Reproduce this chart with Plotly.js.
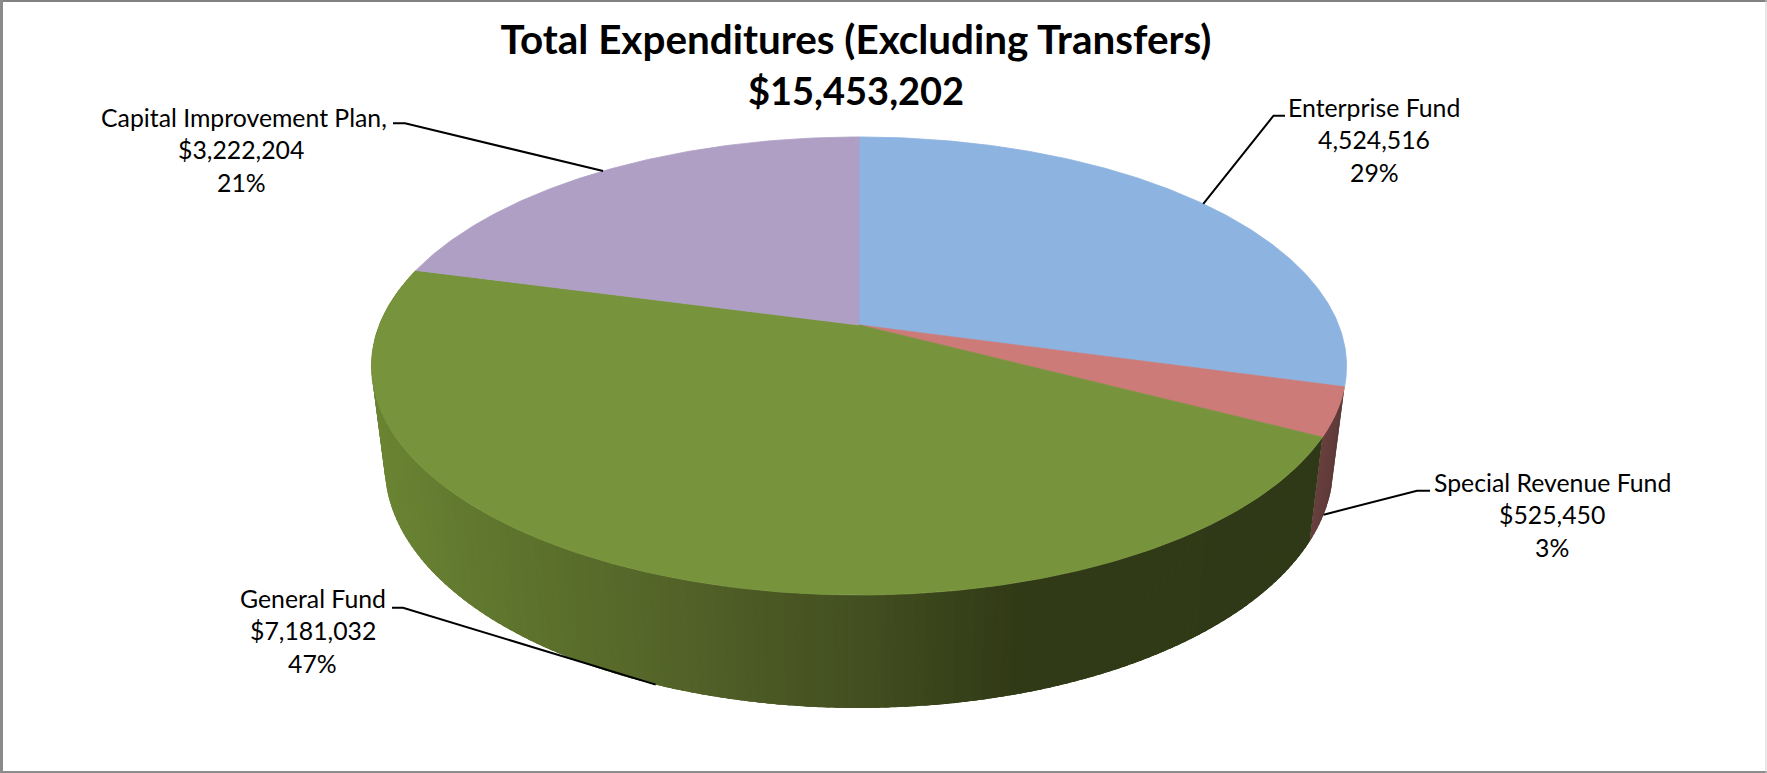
<!DOCTYPE html>
<html>
<head>
<meta charset="utf-8">
<title>Total Expenditures (Excluding Transfers)</title>
<script src="https://cdn.plot.ly/plotly-3.0.1.min.js"></script>
<style>html,body{margin:0;padding:0;background:#fff;overflow:hidden}#chart{width:1767px;height:773px}</style>
</head>
<body>
<div id="chart"></div>
<script>
// Expenditure by fund, clockwise from twelve o'clock.
const funds = ['Enterprise Fund', 'Special Revenue Fund', 'General Fund', 'Capital Improvement Plan,'];
const amounts = [4524516, 525450, 7181032, 3222204];
const amountLabels = ['4,524,516', '$525,450', '$7,181,032', '$3,222,204'];
const shareLabels = ['29%', '3%', '47%', '21%'];
const chartTitle = 'Total Expenditures (Excluding Transfers)';
const chartTotal = '$15,453,202';

const topColors = ['#8DB3E0', '#CC7B78', '#77933C', '#AF9FC5'];

// Shading of the General Fund wall, left to right across the page.
const wallStopX = [370, 472, 676, 880, 1033, 1400];
const wallStopRGB = [[108, 134, 52], [98, 122, 47], [84, 101, 41], [67, 79, 32], [49, 58, 22], [47, 57, 23]];
const pinkWallRGB = [[92, 58, 56], [106, 64, 62]];

// Perspective view of the disc: cx, cy is where the disc centre lands,
// a and b scale across and up, p is the foreshortening toward the back.
const topDisc = {cx: 859, cy: 325, a: 479.7, b: 221.7, p: 0.179};
const baseDisc = {cx: 859, cy: 422.7, a: 466.6, b: 234.2, p: 0.179};

function project(disc, deg) {
  const t = deg * Math.PI / 180;
  const w = 1 + disc.p * Math.cos(t);
  return [disc.cx + disc.a * Math.sin(t) / w, disc.cy - disc.b * Math.cos(t) / w];
}

const total = amounts.reduce((s, v) => s + v, 0);
const edges = [0];
amounts.forEach(v => edges.push(edges[edges.length - 1] + v / total * 360));

function wallColor(x) {
  let i = 0;
  while (i < wallStopX.length - 2 && x > wallStopX[i + 1]) i++;
  const f = Math.min(1, Math.max(0, (x - wallStopX[i]) / (wallStopX[i + 1] - wallStopX[i])));
  const c = wallStopRGB[i].map((v, k) => Math.round(v + (wallStopRGB[i + 1][k] - v) * f));
  return `rgb(${c.join(',')})`;
}

function polygon(xy, color, edge) {
  return {
    type: 'scatter', mode: 'lines', x: xy.map(p => p[0]), y: xy.map(p => p[1]),
    fill: 'toself', fillcolor: color, line: {color: color, width: edge},
    hoverinfo: 'skip', showlegend: false
  };
}

const traces = [];

// Outer wall: narrow bands drawn in order, each one running on under the next
// so no seam shows between neighbours.
function addWall(from, to, last, colorAt) {
  for (let d = to - 1; d >= from - 1; d -= 1) {
    const s = Math.max(d, from), e = Math.min(d + 2.5, last);
    const a = project(topDisc, s), b = project(topDisc, e);
    const c = project(baseDisc, e), f = project(baseDisc, s);
    traces.push(polygon([a, b, c, f, a], colorAt((a[0] + f[0]) / 2 + 1, (s - from) / (to - from)), 0));
  }
}
addWall(edges[1], edges[2], edges[2], (x, f) => {
  const c = pinkWallRGB[0].map((v, k) => Math.round(v + (pinkWallRGB[1][k] - v) * f));
  return `rgb(${c.join(',')})`;
});
addWall(edges[2], edges[3], edges[3], x => wallColor(x));

// Top face slices.
amounts.forEach((v, i) => {
  const pts = [[topDisc.cx, topDisc.cy]];
  const span = edges[i + 1] - edges[i];
  const n = Math.ceil(span * 2);
  for (let k = 0; k <= n; k++) pts.push(project(topDisc, edges[i] + span * k / n));
  pts.push([topDisc.cx, topDisc.cy]);
  traces.push(polygon(pts, topColors[i], 0.8));
});

// Label placement: leader elbow, leader run-in, and the centre of the text block.
const leaderRim = [topDisc, baseDisc, baseDisc, topDisc];
const leaderElbow = [[1273.5, 115.7], [1417, 490.7], [403, 607.7], [405, 123.3]];
const leaderEnd = [[1285, 115.7], [1430, 490.7], [392, 607.7], [393, 123.3]];
const labelX = [1374, 1552, 312.6, 241];
const labelNameShift = [0, 0, 0, 3];
const labelY = [107, 482, 598, 117];
const labelStep = 32.8;

amounts.forEach((v, i) => {
  const rim = project(leaderRim[i], (edges[i] + edges[i + 1]) / 2);
  traces.push({
    type: 'scatter', mode: 'lines',
    x: [rim[0], leaderElbow[i][0], leaderEnd[i][0]],
    y: [rim[1], leaderElbow[i][1], leaderEnd[i][1]],
    line: {color: '#000', width: 2}, hoverinfo: 'skip', showlegend: false
  });
});

const labelFont = {family: 'Lato, "Open Sans", sans-serif', size: 24.8, color: '#000'};
const annotations = [{
  x: 856, y: 89.5, xref: 'x', yref: 'y', text: chartTotal, showarrow: false,
  font: {family: 'Lato, "Open Sans", sans-serif', size: 38, color: '#000', weight: 700}
}];
funds.forEach((name, i) => {
  [name, amountLabels[i], shareLabels[i]].forEach((line, k) => {
    annotations.push({
      x: labelX[i] + (k === 0 ? labelNameShift[i] : 0), y: labelY[i] + k * labelStep, xref: 'x', yref: 'y',
      text: line, showarrow: false, font: labelFont
    });
  });
});

// Chart frame.
const frame = [
  {x0: 0, x1: 1767, y0: 0, y1: 2, c: '#828282'},
  {x0: 0, x1: 3, y0: 0, y1: 773, c: '#8a8a8a'},
  {x0: 0, x1: 1767, y0: 771, y1: 773, c: '#8c8c8c'},
  {x0: 1765.5, x1: 1766.5, y0: 0, y1: 773, c: '#cfcfcf'}
].map(r => ({
  type: 'rect', xref: 'x', yref: 'y', x0: r.x0, x1: r.x1, y0: r.y0, y1: r.y1,
  fillcolor: r.c, line: {width: 0}
}));

const hidden = {visible: false, fixedrange: true};
Plotly.newPlot('chart', traces, {
  width: 1767, height: 773,
  margin: {l: 0, r: 0, t: 0, b: 0, pad: 0},
  paper_bgcolor: '#fff', plot_bgcolor: '#fff',
  showlegend: false,
  title: {
    text: chartTitle, x: 856 / 1767, xanchor: 'center', y: 1 - 40 / 773, yanchor: 'middle',
    font: {family: 'Lato, "Open Sans", sans-serif', size: 40.4, color: '#000', weight: 700}
  },
  xaxis: Object.assign({range: [0, 1767]}, hidden),
  yaxis: Object.assign({range: [773, 0]}, hidden),
  annotations: annotations,
  shapes: frame
}, {displayModeBar: false, staticPlot: true});
</script>
</body>
</html>
